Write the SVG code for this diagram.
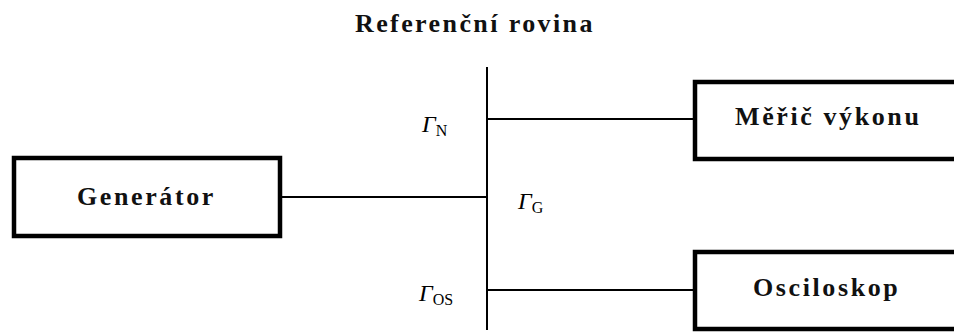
<svg xmlns="http://www.w3.org/2000/svg" width="954" height="332" viewBox="0 0 954 332">
<style>
.box{fill:#fff;stroke:#000;stroke-width:4.5}
.lbl{font-family:"Liberation Serif","Times New Roman",serif;font-weight:bold;font-size:26px;letter-spacing:2.6px;fill:#111}
.g{font-family:"Liberation Serif","Times New Roman",serif;font-style:italic;font-size:24px;fill:#000}
.sub{font-family:"Liberation Serif","Times New Roman",serif;font-style:normal;font-size:16px;fill:#000}
.wire{stroke:#000;stroke-width:2;fill:none}
</style>
<rect width="954" height="332" fill="#fff"/>
<text class="lbl" x="355" y="32" style="letter-spacing:2.4px">Referenční rovina</text>
<g id="connectors">
<line class="wire" x1="487" y1="67" x2="487" y2="330"/>
<line class="wire" x1="282" y1="197" x2="487" y2="197"/>
<line class="wire" x1="487" y1="119" x2="694" y2="119"/>
<line class="wire" x1="487" y1="290" x2="694" y2="290"/>
</g>
<g id="generator">
<rect class="box" x="14" y="158" width="266" height="78"/>
<text class="lbl" x="77" y="205">Generátor</text>
</g>
<g id="meric">
<rect class="box" x="695" y="82" width="270" height="77"/>
<text class="lbl" x="735" y="125">Měřič výkonu</text>
</g>
<g id="osciloskop">
<rect class="box" x="695" y="252" width="270" height="77"/>
<text class="lbl" x="753" y="296">Osciloskop</text>
</g>
<g id="labels">
<text class="g" x="422" y="132">Γ<tspan class="sub" dx="0" dy="4">N</tspan></text>
<text class="g" x="518" y="209">Γ<tspan class="sub" dx="0" dy="4">G</tspan></text>
<text class="g" x="419" y="301">Γ<tspan class="sub" dx="0" dy="4">OS</tspan></text>
</g>
</svg>
